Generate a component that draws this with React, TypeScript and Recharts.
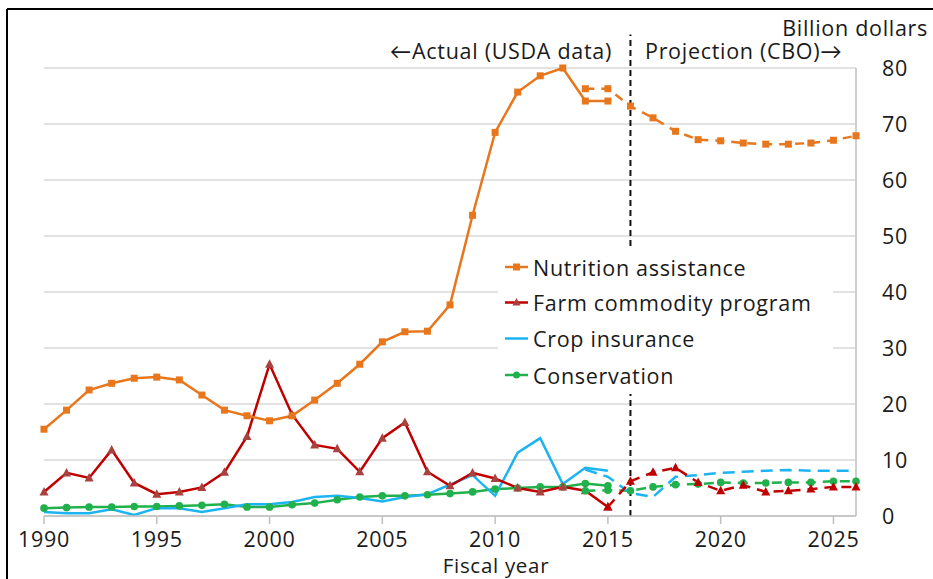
import React from 'react'
import {
    ComposedChart, Line, XAxis, YAxis, CartesianGrid, ReferenceLine,
} from 'recharts'

const years = [
    1990, 1991, 1992, 1993, 1994, 1995, 1996, 1997, 1998, 1999,
    2000, 2001, 2002, 2003, 2004, 2005, 2006, 2007, 2008, 2009,
    2010, 2011, 2012, 2013, 2014, 2015, 2016, 2017, 2018, 2019,
    2020, 2021, 2022, 2023, 2024, 2025, 2026,
]
const xTicks = [1990, 1995, 2000, 2005, 2010, 2015, 2020, 2025]
const yTicks = [0, 10, 20, 30, 40, 50, 60, 70, 80]

// actual series: 1990-2015
const nutritionActual = [15.5, 18.9, 22.5, 23.7, 24.6, 24.8, 24.3, 21.6, 18.9, 17.9, 17.0, 17.9, 20.7, 23.7, 27.1, 31.1, 32.9, 33.0, 37.7, 53.7, 68.5, 75.7, 78.6, 80.0, 74.1, 74.1]
const farmActual = [4.3, 7.7, 6.8, 11.8, 5.9, 3.9, 4.3, 5.1, 7.8, 14.2, 27.1, 18.1, 12.7, 12.0, 7.9, 13.9, 16.7, 7.9, 5.4, 7.7, 6.7, 5.0, 4.3, 5.2, 4.5, 1.6]
const cropActual = [0.7, 0.5, 0.5, 1.2, 0.2, 1.4, 1.4, 0.7, 1.4, 2.1, 2.1, 2.5, 3.4, 3.6, 3.2, 2.6, 3.4, 3.9, 5.6, 7.3, 3.6, 11.3, 13.9, 5.7, 8.6, 8.1]
const consActual = [1.4, 1.5, 1.6, 1.6, 1.7, 1.7, 1.8, 1.9, 2.1, 1.6, 1.6, 2.0, 2.3, 2.9, 3.4, 3.6, 3.6, 3.8, 4.0, 4.3, 4.8, 5.0, 5.2, 5.2, 5.8, 5.4]

// projection series (CBO)
const nutritionProjStart = 2014
const nutritionProj = [76.3, 76.3, 73.2, 71.1, 68.7, 67.2, 67.0, 66.6, 66.4, 66.4, 66.6, 67.1, 67.9]
const farmProjStart = 2015
const farmProj = [1.6, 6.2, 7.8, 8.6, 6.0, 4.5, 5.5, 4.3, 4.5, 4.8, 5.2, 5.2]
const cropProjStart = 2014
const cropProj = [8.3, 7.0, 4.1, 3.4, 7.0, 7.3, 7.7, 7.9, 8.1, 8.2, 8.1, 8.1, 8.1]
const consProjStart = 2014
const consProj = [4.5, 4.6, 4.5, 5.2, 5.6, 5.7, 6.0, 5.9, 5.9, 6.0, 6.0, 6.2, 6.2]

const seriesNames = ['Nutrition assistance', 'Farm commodity program', 'Crop insurance', 'Conservation']

const ORANGE = '#E8761C'
const RED = '#C00000'
const RED_MARK = '#A8423F'
const BLUE = '#1CB4F0'
const GREEN = '#21B14C'
const TEXT = '#1A1A1A'
const FONT = '"Open Sans", Lato, sans-serif'
const FS = 21.5
const LS = 0.7

const pick = (arr: number[], start: number, y: number) => {
    const i = y - start
    return i >= 0 && i < arr.length ? arr[i] : null
}

const data = years.map((y) => ({
    year: y,
    nutrition: pick(nutritionActual, 1990, y),
    farm: pick(farmActual, 1990, y),
    crop: pick(cropActual, 1990, y),
    cons: pick(consActual, 1990, y),
    nutritionP: pick(nutritionProj, nutritionProjStart, y),
    farmP: pick(farmProj, farmProjStart, y),
    cropP: pick(cropProj, cropProjStart, y),
    consP: pick(consProj, consProjStart, y),
}))

const squareDot = (color: string) => (p: any) => {
    if (p.cx == null || p.cy == null || p.value == null) return <g key={p.key} />
    return <rect key={p.key} x={p.cx - 3.5} y={p.cy - 3.5} width={7} height={7} fill={color} />
}
const triDot = (color: string) => (p: any) => {
    if (p.cx == null || p.cy == null || p.value == null) return <g key={p.key} />
    const { cx, cy } = p
    return <path key={p.key} d={`M${cx},${cy - 5}L${cx + 4.5},${cy + 3.5}L${cx - 4.5},${cy + 3.5}Z`} fill={color} />
}
const circleDot = (color: string) => (p: any) => {
    if (p.cx == null || p.cy == null || p.value == null) return <g key={p.key} />
    return <circle key={p.key} cx={p.cx} cy={p.cy} r={3.8} fill={color} />
}

function LegendMark({ i, y }: { i: number; y: number }) {
    const colors = [ORANGE, RED, BLUE, GREEN]
    const c = colors[i]
    return (
        <g>
            <line x1={505} x2={528} y1={y} y2={y} stroke={c} strokeWidth={2.5} />
            {i === 0 && <rect x={513} y={y - 3.5} width={7} height={7} fill={c} />}
            {i === 1 && <path d={`M516.5,${y - 4.5}L520.5,${y + 3}L512.5,${y + 3}Z`} fill={RED_MARK} />}
            {i === 3 && <circle cx={516.5} cy={y} r={3.5} fill={c} />}
        </g>
    )
}

export default function App() {
    const legendRows = [267, 302.5, 338.5, 375]
    const tickStyle = { fontSize: FS, fill: TEXT, fontFamily: FONT, letterSpacing: LS }
    return (
        <div style={{ position: 'fixed', left: 0, top: 0, width: 933, height: 579, background: '#fff', fontFamily: FONT }}>
            <ComposedChart
                width={933}
                height={579}
                data={data}
                margin={{ top: 68, right: 17, bottom: 33, left: 44 }}
            >
                <CartesianGrid vertical={false} stroke="#D9D9D9" strokeWidth={1.5} />
                <XAxis
                    dataKey="year"
                    type="number"
                    domain={[1990, 2026]}
                    ticks={xTicks}
                    height={30}
                    tickSize={8}
                    tickMargin={8}
                    axisLine={{ stroke: '#BFBFBF', strokeWidth: 1.5 }}
                    tickLine={{ stroke: '#BFBFBF', strokeWidth: 1.5 }}
                    tick={tickStyle}
                />
                <YAxis
                    orientation="right"
                    domain={[0, 80]}
                    ticks={yTicks}
                    width={60}
                    tickSize={0}
                    tickMargin={26}
                    axisLine={{ stroke: '#BFBFBF', strokeWidth: 1.5 }}
                    tickLine={false}
                    tick={tickStyle}
                />
                <ReferenceLine
                    segment={[{ x: 2016, y: 0 }, { x: 2016, y: 86 }]}
                    ifOverflow="visible"
                    stroke="#111"
                    strokeWidth={2}
                    strokeDasharray="6 4"
                />
                <Line dataKey="cons" stroke={GREEN} strokeWidth={2.5} dot={circleDot(GREEN)} isAnimationActive={false} />
                <Line dataKey="crop" stroke={BLUE} strokeWidth={2.5} dot={false} isAnimationActive={false} />
                <Line dataKey="farm" stroke={RED} strokeWidth={2.5} dot={triDot(RED_MARK)} isAnimationActive={false} />
                <Line dataKey="nutrition" stroke={ORANGE} strokeWidth={2.5} dot={squareDot(ORANGE)} isAnimationActive={false} />
                <Line dataKey="consP" stroke={GREEN} strokeWidth={2.5} strokeDasharray="10 7" dot={circleDot(GREEN)} isAnimationActive={false} />
                <Line dataKey="cropP" stroke={BLUE} strokeWidth={2.5} strokeDasharray="12 7" dot={false} isAnimationActive={false} />
                <Line dataKey="farmP" stroke={RED} strokeWidth={2.5} strokeDasharray="10 7" dot={triDot(RED)} isAnimationActive={false} />
                <Line dataKey="nutritionP" stroke={ORANGE} strokeWidth={2.5} strokeDasharray="9 7" dot={squareDot(ORANGE)} isAnimationActive={false} />
            </ComposedChart>
            <svg width={933} height={579} style={{ position: 'absolute', left: 0, top: 0, pointerEvents: 'none' }}>
                <line x1={7} y1={9} x2={933} y2={9} stroke="#000" strokeWidth={2} />
                <line x1={7} y1={9} x2={7} y2={579} stroke="#000" strokeWidth={2} />
                <g fontFamily={FONT} fontSize={FS} fill={TEXT} letterSpacing={LS}>
                    <text x={928} y={27} textAnchor="end" dominantBaseline="central">Billion dollars</text>
                    <text x={612} y={50} textAnchor="end" dominantBaseline="central">←Actual (USDA data)</text>
                    <text x={645} y={50} textAnchor="start" dominantBaseline="central">Projection (CBO)→</text>
                </g>
                <text x={496} y={565} textAnchor="middle" dominantBaseline="central" fontFamily={FONT} fontSize={20.5} fill={TEXT} letterSpacing={LS}>Fiscal year</text>
                <rect x={498} y={248} width={335} height={146} fill="#fff" />
                {seriesNames.map((name, i) => (
                    <g key={name}>
                        <LegendMark i={i} y={legendRows[i]} />
                        <text x={533} y={legendRows[i]} dominantBaseline="central" fontFamily={FONT} fontSize={FS} fill={TEXT} letterSpacing={LS}>{name}</text>
                    </g>
                ))}
            </svg>
        </div>
    )
}
